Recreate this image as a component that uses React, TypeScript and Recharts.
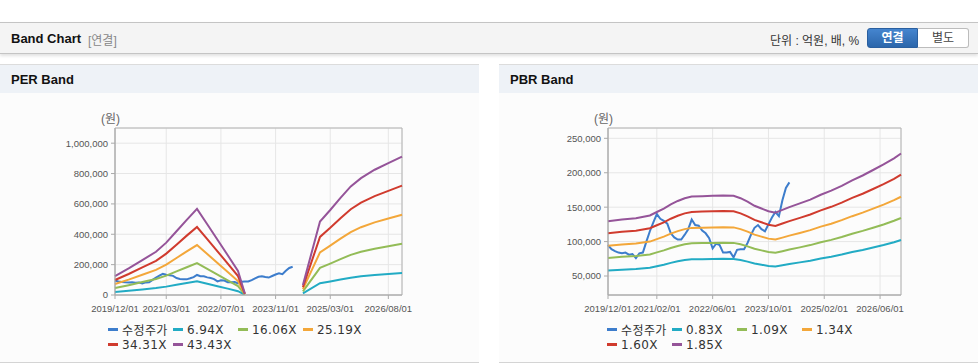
import React from "react";
import { LineChart, Line, XAxis, YAxis, CartesianGrid, ReferenceArea } from "recharts";

const FONT = '"Liberation Sans", Arial, "Noto Sans CJK KR", sans-serif';

// 수정주가, one value per month from 2019/12 to 2024/04
const priceStart = "2019/12";
const price = [
  95000, 89000, 86000, 84000, 83000, 84000, 81000, 82000, 76000, 83000, 84000, 100000,
  115000, 128000, 140000, 133000, 130000, 126000, 112000, 106000, 103000, 103000, 110000, 118000,
  132000, 124000, 123000, 116000, 112000, 105000, 90000, 97000, 95000, 84000, 84000, 85000,
  77000, 88000, 89000, 89000, 98000, 110000, 120000, 124000, 118000, 115000, 125000, 135000,
  143000, 137000, 160000, 178000, 186000,
];

// PER band (null = no band, EPS below zero)
const perMonths = [
  "2019/12", "2020/04", "2020/08", "2020/12", "2021/03", "2021/06", "2021/09", "2021/12",
  "2022/03", "2022/06", "2022/09", "2022/12", "2023/02", "2023/10", "2024/07", "2024/12",
  "2025/03", "2025/06", "2025/09", "2025/12", "2026/04", "2026/08", "2026/12",
];
const per694 = [20000, 28000, 36800, 45500, 55100, 67100, 79100, 90600, 74500, 58200, 41900, 25200, 1600, null, 10500, 77300, 89500, 102300, 114300, 123000, 131800, 138700, 145700];
const per1606 = [46200, 64700, 85100, 105400, 127600, 155300, 183100, 209700, 172300, 134600, 96900, 58400, 3700, null, 24400, 179000, 207100, 236700, 264400, 284700, 305100, 321000, 337300];
const per2519 = [72500, 101500, 133400, 165300, 200100, 243600, 287100, 328900, 270300, 211100, 152000, 91600, 5800, null, 38300, 280700, 324800, 371200, 414700, 446600, 478500, 503400, 529000];
const per3431 = [98800, 138300, 181700, 225200, 272600, 331800, 391100, 447900, 368100, 287600, 207000, 124800, 7900, null, 52100, 382400, 442400, 505600, 564900, 608300, 651800, 685700, 720500];
const per4343 = [125000, 175000, 230000, 285000, 345000, 420000, 495000, 567000, 466000, 364000, 262000, 158000, 10000, null, 66000, 484000, 560000, 640000, 715000, 770000, 825000, 868000, 912000];
const perTicks = ["2019/12/01", "2021/03/01", "2022/07/01", "2023/11/01", "2025/03/01", "2026/08/01"];
const perYTicks = [0, 200000, 400000, 600000, 800000, 1000000];

// PBR band
const pbrMonths = [
  "2019/12", "2020/04", "2020/08", "2020/12", "2021/02", "2021/04", "2021/06", "2021/08",
  "2021/10", "2021/12", "2022/03", "2022/06", "2022/09", "2022/12", "2023/02", "2023/04",
  "2023/06", "2023/08", "2023/10", "2023/12", "2024/02", "2024/04", "2024/07", "2024/10",
  "2025/01", "2025/04", "2025/07", "2025/10", "2026/01", "2026/04", "2026/07", "2026/10", "2026/12",
];
const pbr083 = [58100, 59200, 60100, 61900, 64100, 66400, 69100, 71300, 73100, 74200, 74500, 74700, 74900, 74700, 73100, 70900, 68200, 66400, 64600, 63700, 65500, 67300, 69800, 72200, 75400, 78100, 81200, 84800, 87900, 91500, 95100, 99100, 102300];
const pbr109 = [76300, 77800, 79000, 81300, 84300, 87200, 90700, 93700, 96000, 97500, 97800, 98100, 98400, 98100, 96000, 93100, 89600, 87200, 84800, 83700, 86000, 88400, 91600, 94900, 99000, 102500, 106600, 111400, 115500, 120200, 124900, 130200, 134300];
const pbr134 = [93800, 95600, 97100, 100000, 103600, 107200, 111500, 115200, 118100, 119900, 120200, 120600, 121000, 120600, 118100, 114400, 110100, 107200, 104300, 102900, 105700, 108600, 112600, 116600, 121700, 126000, 131100, 136900, 142000, 147800, 153600, 160100, 165100];
const pbr160 = [112000, 114200, 115900, 119400, 123700, 128000, 133200, 137500, 141000, 143100, 143600, 144000, 144400, 144000, 141000, 136700, 131500, 128000, 124500, 122800, 126300, 129700, 134500, 139300, 145300, 150500, 156500, 163500, 169500, 176400, 183400, 191100, 197200];
const pbr185 = [129500, 132000, 134000, 138000, 143000, 148000, 154000, 159000, 163000, 165500, 166000, 166500, 167000, 166500, 163000, 158000, 152000, 148000, 144000, 142000, 146000, 150000, 155500, 161000, 168000, 174000, 181000, 189000, 196000, 204000, 212000, 221000, 228000];
const pbrTicks = ["2019/12/01", "2021/02/01", "2022/06/01", "2023/10/01", "2025/02/01", "2026/06/01"];
const pbrYTicks = [50000, 100000, 150000, 200000, 250000];

const COLORS = ["#3d7dcc", "#22abc4", "#93bc57", "#f3a73a", "#d03b2e", "#955499"];

// months since 2019/12
const monthIndex = (s: string) => {
  const [y, m] = s.split("/").map(Number);
  return (y - 2019) * 12 + m - 12;
};

const priceRows = price.map((v, i) => ({ m: monthIndex(priceStart) + i, v }));
const rows = (months: string[], values: (number | null)[]) =>
  months.map((d, i) => ({ m: monthIndex(d), v: values[i] }));

const perSeries = [
  { name: "수정주가", data: priceRows },
  { name: "6.94X", data: rows(perMonths, per694) },
  { name: "16.06X", data: rows(perMonths, per1606) },
  { name: "25.19X", data: rows(perMonths, per2519) },
  { name: "34.31X", data: rows(perMonths, per3431) },
  { name: "43.43X", data: rows(perMonths, per4343) },
];

const pbrSeries = [
  { name: "수정주가", data: priceRows },
  { name: "0.83X", data: rows(pbrMonths, pbr083) },
  { name: "1.09X", data: rows(pbrMonths, pbr109) },
  { name: "1.34X", data: rows(pbrMonths, pbr134) },
  { name: "1.60X", data: rows(pbrMonths, pbr160) },
  { name: "1.85X", data: rows(pbrMonths, pbr185) },
];

interface PanelProps {
  title: string;
  left: number;
  chartLeft: number;
  series: { name: string; data: { m: number; v: number | null }[] }[];
  ticks: string[];
  yTicks: number[];
  yDomain: [number, number];
}

function BandPanel({ title, left, chartLeft, series, ticks, yTicks, yDomain }: PanelProps) {
  const tickPos = ticks.map((t) => monthIndex(t.slice(0, 7)));
  const tickStyle = { fontSize: 9.5, fill: "#555", fontFamily: FONT };
  return (
    <div
      style={{
        position: "absolute",
        left,
        top: 64,
        width: 479,
        height: 299,
        boxSizing: "border-box",
        background: "#fcfcfc",
        borderTop: "1px solid #dcdcdc",
        borderBottom: "1px solid #d4d4d4",
      }}
    >
      <div
        style={{
          height: 28,
          background: "#eef2f7",
          fontWeight: "bold",
          fontSize: 13,
          lineHeight: "29px",
          paddingLeft: 11,
          color: "#111",
        }}
      >
        {title}
      </div>
      <div style={{ position: "absolute", left: chartLeft - 14, top: 44, fontSize: 12, color: "#666" }}>
        (원)
      </div>
      <div style={{ position: "absolute", left: 0, top: 28 }}>
        <LineChart width={479} height={227} margin={{ top: 35, right: 77, bottom: 0, left: chartLeft - 60 }}>
          <CartesianGrid stroke="#e6e6e6" />
          <XAxis
            dataKey="m"
            type="number"
            domain={[0, 84]}
            ticks={tickPos}
            interval={0}
            tickFormatter={(v) => ticks[tickPos.indexOf(v)]}
            stroke="#aaa"
            tickSize={4}
            tickMargin={6}
            height={25}
            tick={tickStyle}
          />
          <YAxis
            type="number"
            domain={yDomain}
            ticks={yTicks}
            interval={0}
            allowDataOverflow
            tickFormatter={(v) => Number(v).toLocaleString("en-US")}
            stroke="#aaa"
            tickSize={4}
            tickMargin={3}
            width={60}
            tick={tickStyle}
          />
          <ReferenceArea x1={0} x2={84} y1={yDomain[0]} y2={yDomain[1]} fill="none" stroke="#b4b4b4" strokeOpacity={1} />
          {series.map((s, i) => (
            <Line
              key={s.name}
              data={s.data}
              dataKey="v"
              name={s.name}
              type="linear"
              stroke={COLORS[i]}
              strokeWidth={2}
              dot={false}
              activeDot={false}
              isAnimationActive={false}
            />
          ))}
        </LineChart>
      </div>
      <div
        style={{
          position: "absolute",
          left: 108,
          top: 257,
          width: 264,
          display: "flex",
          flexWrap: "wrap",
          fontSize: 12,
          letterSpacing: 0.4,
          color: "#333",
          fontFamily: '"DejaVu Sans", "Noto Sans CJK KR", sans-serif',
        }}
      >
        {series.map((s, i) => (
          <div key={s.name} style={{ width: 65, height: 15, display: "flex", alignItems: "center" }}>
            <span style={{ width: 10, height: 3, background: COLORS[i], marginRight: 4 }} />
            <span>{s.name}</span>
          </div>
        ))}
      </div>
    </div>
  );
}

export default function App() {
  return (
    <div
      style={{
        position: "absolute",
        left: 0,
        top: 0,
        width: 978,
        height: 364,
        background: "#fff",
        fontFamily: FONT,
        overflow: "hidden",
      }}
    >
      <div
        style={{
          position: "absolute",
          left: 0,
          top: 22,
          width: 978,
          height: 32,
          boxSizing: "border-box",
          background: "#f4f4f4",
          borderTop: "1px solid #c4c4c4",
          borderBottom: "1px solid #c4c4c4",
          boxShadow: "0 2px 3px rgba(0,0,0,0.12)",
        }}
      >
        <span style={{ position: "absolute", left: 11, top: 8, fontSize: 13, fontWeight: "bold", color: "#111" }}>
          Band Chart
        </span>
        <span style={{ position: "absolute", left: 88, top: 8, fontSize: 12, color: "#888" }}>[연결]</span>
        <span style={{ position: "absolute", left: 770, top: 8, fontSize: 12, color: "#333" }}>
          단위 : 억원, 배, %
        </span>
        <div
          style={{
            position: "absolute",
            left: 867,
            top: 5,
            width: 51,
            height: 20,
            boxSizing: "border-box",
            background: "linear-gradient(#4585cf, #2b66ab)",
            border: "1px solid #2a5f9f",
            borderRadius: "3px 0 0 3px",
            color: "#fff",
            fontWeight: "bold",
            fontSize: 12,
            lineHeight: "18px",
            textAlign: "center",
          }}
        >
          연결
        </div>
        <div
          style={{
            position: "absolute",
            left: 918,
            top: 5,
            width: 51,
            height: 20,
            boxSizing: "border-box",
            background: "#fff",
            border: "1px solid #bcbcbc",
            borderLeft: "none",
            borderRadius: "0 3px 3px 0",
            color: "#444",
            fontSize: 12,
            lineHeight: "18px",
            textAlign: "center",
          }}
        >
          별도
        </div>
      </div>
      <BandPanel
        title="PER Band"
        left={0}
        chartLeft={115}
        series={perSeries}
        ticks={perTicks}
        yTicks={perYTicks}
        yDomain={[0, 1100000]}
      />
      <BandPanel
        title="PBR Band"
        left={499}
        chartLeft={109}
        series={pbrSeries}
        ticks={pbrTicks}
        yTicks={pbrYTicks}
        yDomain={[22400, 265000]}
      />
    </div>
  );
}
